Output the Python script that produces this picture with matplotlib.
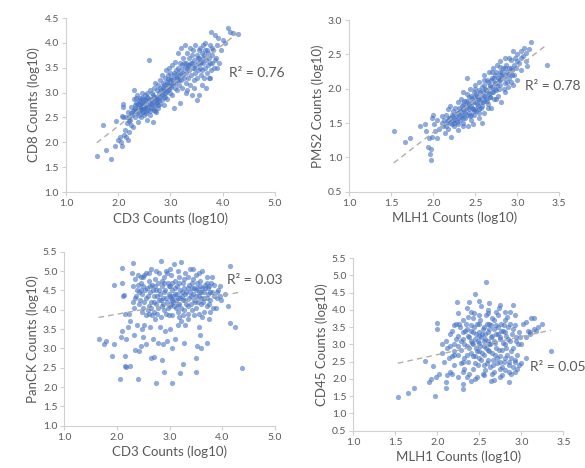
import numpy as np
import matplotlib
matplotlib.use("Agg")
import matplotlib.pyplot as plt

plt.rcParams['font.family'] = ['Lato', 'DejaVu Sans']

# ---- data ----
cd3_cd8 = [
    (1.59,1.73),(1.7,2.35),(1.76,1.85),(1.86,1.67),(1.93,1.93),(1.95,2.43),(2.0,2.05),
    (2.03,2.1),(2.05,2.0),(2.07,1.93),(2.08,2.52),(2.1,2.5),(2.1,2.72),(2.09,2.78),(2.12,2.15),(2.13,2.25),
    (2.15,2.1),(2.15,2.5),(2.17,2.38),(2.18,2.05),(2.2,2.2),(2.2,2.42),(2.19,2.6),
    (2.22,2.45),(2.25,2.35),(2.25,2.72),(2.27,2.55),(2.28,2.3),(2.3,2.65),(2.3,2.88),(2.31,3.05),(2.32,2.75),
    (2.33,2.5),(2.35,2.62),(2.35,2.8),(2.36,2.95),(2.37,2.4),(2.38,2.7),(2.39,2.85),(2.4,2.55),(2.4,2.78),
    (2.41,2.65),(2.42,2.9),(2.43,2.72),(2.44,2.5),(2.45,2.8),(2.45,3.0),(2.46,2.6),(2.47,2.75),(2.48,2.88),
    (2.49,2.68),(2.5,2.55),(2.5,2.8),(2.51,2.95),(2.52,2.72),(2.53,2.62),(2.54,2.85),(2.55,2.45),(2.55,3.0),
    (2.56,2.75),(2.57,2.9),(2.58,2.65),(2.59,3.65),(2.6,2.8),(2.6,3.05),
    (2.61,2.55),(2.62,2.88),(2.63,2.7),(2.64,3.0),(2.65,2.78),(2.66,2.4),(2.67,2.95),(2.68,2.65),(2.69,3.1),
    (2.7,2.85),(2.7,2.75),(2.71,3.2),(2.72,2.92),(2.73,2.6),(2.74,3.05),(2.75,2.82),(2.76,3.15),(2.77,2.7),
    (2.78,3.0),(2.79,2.9),(2.8,3.25),(2.8,2.78),
    (2.81,3.1),(2.82,2.95),(2.83,3.35),(2.84,2.85),(2.85,3.05),(2.86,3.2),(2.87,2.75),(2.88,3.15),(2.89,3.0),
    (2.9,3.3),(2.9,2.92),(2.91,3.45),(2.92,3.1),(2.93,3.22),(2.94,2.88),(2.95,3.35),(2.96,3.05),(2.97,3.15),
    (2.98,3.5),(2.99,3.25),(3.0,3.0),(3.0,3.4),
    (3.01,3.15),(3.02,3.3),(3.03,2.95),(3.04,3.55),(3.05,3.2),(3.06,3.4),(3.07,2.68),(3.08,3.1),(3.09,3.62),
    (3.1,3.3),(3.11,3.45),(3.12,3.05),(3.13,3.25),(3.14,3.5),(3.15,3.8),(3.16,3.15),(3.17,3.35),(3.18,3.6),
    (3.19,2.8),(3.2,3.45),(3.2,3.25),
    (3.21,3.9),(3.22,3.55),(3.23,3.1),(3.24,3.4),(3.25,3.7),(3.26,3.3),(3.27,3.5),(3.28,3.95),(3.29,3.2),
    (3.3,3.6),(3.3,3.4),(3.31,3.8),(3.32,3.05),(3.33,3.55),(3.34,3.3),(3.35,3.7),(3.36,3.45),(3.37,3.9),
    (3.38,3.15),(3.39,3.6),(3.4,3.35),
    (3.41,3.75),(3.42,2.95),(3.43,3.5),(3.44,3.85),(3.45,3.25),(3.46,3.65),(3.47,3.4),(3.48,3.95),(3.49,3.55),
    (3.5,2.85),(3.5,3.75),(3.51,3.3),(3.52,3.6),(3.53,3.45),(3.54,3.85),(3.55,2.95),(3.55,3.7),(3.56,3.5),
    (3.57,3.9),(3.58,3.35),(3.59,3.62),(3.6,3.8),
    (3.61,3.45),(3.62,3.95),(3.63,3.6),(3.64,3.3),(3.65,3.75),(3.66,3.5),(3.67,4.0),(3.68,3.65),(3.69,3.1),
    (3.7,3.4),(3.7,3.85),(3.72,3.55),(3.73,3.7),(3.74,3.3),(3.75,3.6),(3.76,3.95),(3.77,3.45),(3.78,4.22),
    (3.79,3.75),(3.8,3.6),
    (3.82,3.85),(3.84,3.5),(3.86,4.15),(3.88,3.7),(3.9,3.95),(3.92,4.1),(3.94,3.6),(3.96,3.85),(4.0,4.05),
    (4.05,4.0),(4.1,4.3),(4.15,4.22),(4.2,4.2),(4.3,4.18),
    (2.32,2.68),(2.34,2.9),(2.36,2.58),(2.38,2.78),(2.42,2.82),(2.44,2.66),(2.46,2.9),(2.48,2.6),(2.5,2.7),
    (2.52,2.85),(2.54,2.58),(2.56,2.92),(2.58,2.72),(2.6,2.62),(2.62,2.78),(2.64,2.85),(2.66,2.7),(2.68,2.92),
    (2.7,2.62),(2.72,2.8),(2.74,2.88),(2.76,2.75),(2.78,2.85),(2.82,3.05),(2.84,2.98),(2.86,3.12),(2.88,2.92),
    (2.92,3.02),(2.94,3.18),(2.96,3.28),(2.98,3.08),(3.02,3.12),(3.04,3.25),(3.06,3.35),(3.08,3.2),(3.12,3.3),
    (3.14,3.4),(3.16,3.25),(3.22,3.35),(3.26,3.6),(3.32,3.5),(3.36,3.55),(3.42,3.6),(3.46,3.5),(3.52,3.7),
    (3.56,3.6),(3.62,3.7),(3.66,3.85),(3.72,3.8),(3.8,3.9),(3.3,3.0),(3.45,3.1),(3.6,3.15),(3.75,3.3),
    (3.85,3.65),(3.9,3.5),(2.2,2.5),(2.25,2.58),(2.28,2.62),(2.45,2.7),
]

mlh1_pms2 = [
    (1.53,1.38),(1.66,1.23),(1.72,1.28),(1.84,1.45),(1.9,1.48),(1.91,1.38),(1.94,1.15),(1.95,1.28),(1.96,1.05),
    (1.97,0.96),(1.97,1.12),(1.98,1.3),(1.99,1.58),(2.0,1.62),(2.01,1.48),(2.02,1.38),(2.04,1.28),(2.05,1.55),
    (2.07,1.42),
    (2.1,1.5),(2.11,1.6),(2.12,1.45),(2.13,1.55),(2.14,1.35),(2.15,1.62),(2.16,1.52),(2.17,1.7),(2.18,1.42),
    (2.19,1.58),(2.2,1.5),(2.2,1.75),(2.21,1.3),(2.22,1.62),(2.23,1.55),(2.24,1.68),(2.25,1.45),(2.26,1.72),
    (2.27,1.6),(2.28,1.52),(2.29,1.8),(2.3,1.65),(2.3,1.4),(2.3,1.48),(2.35,1.45),
    (2.31,1.72),(2.32,1.55),(2.33,1.85),(2.34,1.62),(2.35,1.5),(2.35,1.78),(2.36,1.95),(2.37,1.68),(2.38,1.58),
    (2.39,1.82),(2.4,1.72),(2.4,2.15),(2.41,1.45),(2.42,1.88),(2.43,1.65),(2.44,2.0),(2.45,1.75),(2.45,1.55),
    (2.46,1.85),(2.47,1.7),(2.47,1.48),(2.48,1.95),(2.49,1.62),(2.5,1.8),(2.5,2.05),
    (2.51,1.68),(2.52,1.9),(2.53,1.75),(2.54,2.1),(2.55,1.58),(2.55,1.85),(2.56,1.95),(2.57,1.72),(2.58,2.02),
    (2.58,1.5),(2.59,1.8),(2.6,2.2),(2.6,1.9),(2.61,1.65),(2.62,2.0),(2.63,1.85),(2.64,2.12),(2.65,1.78),
    (2.65,1.95),(2.66,2.25),(2.67,1.88),(2.68,2.05),(2.69,1.72),(2.7,2.15),(2.7,1.95),
    (2.71,2.3),(2.72,1.85),(2.73,2.08),(2.74,2.2),(2.75,1.98),(2.76,2.35),(2.77,1.9),(2.78,2.12),(2.79,2.25),
    (2.8,2.05),(2.8,2.4),(2.81,1.8),(2.82,2.18),(2.83,2.3),(2.84,2.0),(2.85,2.45),(2.85,2.2),(2.86,2.08),
    (2.87,2.35),(2.88,2.25),(2.89,2.02),(2.9,2.3),(2.9,2.15),
    (2.92,2.42),(2.93,2.1),(2.94,2.28),(2.95,2.55),(2.96,2.2),(2.97,2.45),(2.98,2.3),(3.0,2.5),(3.0,2.12),
    (3.02,2.38),(3.04,2.55),(3.05,2.28),(3.07,2.48),(3.08,2.6),(3.1,2.52),(3.11,2.4),(3.12,2.33),(3.14,2.58),
    (3.16,2.68),(3.35,2.35),
    (2.2,1.58),(2.22,1.48),(2.24,1.6),(2.26,1.55),(2.28,1.65),(2.3,1.58),(2.32,1.68),(2.33,1.6),(2.34,1.75),
    (2.36,1.7),(2.37,1.82),(2.38,1.65),(2.39,1.75),(2.4,1.62),(2.41,1.8),(2.42,1.7),(2.43,1.78),(2.44,1.6),
    (2.45,1.9),(2.46,1.72),(2.47,1.8),(2.48,1.68),(2.49,1.88),(2.5,1.7),(2.51,1.92),(2.52,1.78),(2.53,1.85),
    (2.54,1.7),(2.55,1.98),(2.56,1.8),(2.57,1.88),(2.58,1.75),(2.59,1.95),(2.6,1.82),(2.61,2.05),(2.62,1.9),
    (2.63,1.98),(2.64,1.82),(2.65,2.1),(2.66,1.92),(2.67,2.02),(2.68,1.88),(2.69,2.12),(2.7,2.02),(2.71,1.95),
    (2.72,2.15),(2.73,2.0),(2.74,2.08),(2.75,2.25),(2.76,2.05),(2.77,2.15),(2.78,2.0),(2.79,2.2),(2.8,2.12),
    (2.82,2.25),(2.84,2.15),(2.86,2.3),(2.88,2.1),(2.9,2.22),(2.92,2.3),(2.94,2.2),(2.96,2.35),(2.15,1.45),
    (2.18,1.55),(2.25,1.5),(2.35,1.58),(2.45,1.62),(2.55,1.65),(2.65,1.72),(2.75,1.85),(2.85,1.95),(2.95,2.05),
    (2.4,1.92),(2.5,2.0),(2.6,2.12),(2.7,2.25),(2.8,2.32),(2.9,2.45),(3.0,2.4),(3.05,2.45),
]

cd3_panck = [
    (1.65,3.25),(1.75,3.1),(1.8,3.2),(1.95,3.1),(1.9,2.8),(1.95,4.65),(2.05,2.2),(2.08,3.3),(2.1,3.45),
    (2.1,5.07),(2.1,4.7),(2.12,4.35),(2.13,4.38),(2.15,2.55),(2.17,2.52),(2.15,2.8),(2.15,3.9),(2.18,3.25),
    (2.2,3.55),(2.22,3.9),(2.25,2.55),(2.25,3.7),(2.28,4.95),(2.3,5.22),(2.3,4.6),(2.32,3.35),(2.35,2.95),
    (2.38,3.6),(2.4,2.2),(2.42,2.92),(2.45,3.05),(2.47,3.5),(2.5,3.3),(2.52,3.6),(2.55,3.1),(2.6,3.9),
    (2.62,3.55),(2.65,2.75),(2.7,2.78),(2.68,3.25),(2.72,3.75),(2.75,2.1),(2.78,3.15),(2.82,3.55),(2.85,2.7),
    (2.88,3.1),(2.9,2.4),(2.92,3.45),(2.95,3.2),(2.98,3.85),(3.0,3.5),(3.05,2.1),(3.05,3.0),(3.1,3.25),
    (3.15,3.6),(3.18,3.8),(3.2,2.35),(3.22,3.7),(3.25,2.6),(3.28,3.15),(3.3,3.6),(3.35,3.9),(3.5,2.4),
    (3.5,2.75),(3.52,3.05),(3.55,3.55),(3.58,3.35),(3.6,3.0),(3.62,3.8),(3.7,3.15),(3.75,3.75),(4.15,3.65),
    (4.25,3.55),(4.38,2.5),
    (2.35,4.8),(2.38,4.5),(2.4,4.65),(2.42,4.15),(2.45,4.85),(2.47,4.4),(2.5,4.6),(2.5,4.05),(2.52,4.9),
    (2.55,4.3),(2.57,4.55),(2.6,4.75),(2.6,4.1),(2.62,4.45),(2.64,5.05),(2.65,4.2),(2.67,4.65),(2.7,4.35),
    (2.7,3.95),(2.72,4.8),(2.74,4.5),(2.75,4.15),(2.77,4.7),(2.79,4.25),(2.8,4.95),(2.82,4.4),(2.83,5.25),
    (2.85,4.1),(2.86,4.6),(2.88,4.3),(2.9,4.85),(2.9,4.0),(2.92,4.5),(2.93,5.0),(2.95,4.2),(2.96,4.7),
    (2.98,4.4),(3.0,4.6),(3.0,4.1),(3.02,4.3),(3.03,4.9),(3.05,4.5),(3.07,4.2),(3.08,5.18),(3.1,4.4),
    (3.1,4.75),(3.12,4.05),(3.14,4.6),(3.15,4.3),(3.17,4.85),(3.18,4.15),(3.2,4.5),(3.22,5.24),(3.23,4.35),
    (3.25,4.7),(3.27,4.0),(3.28,4.55),(3.3,4.25),(3.3,4.95),(3.32,4.45),(3.35,4.1),(3.36,4.65),(3.38,5.05),
    (3.4,4.35),(3.42,4.55),(3.43,4.0),(3.45,4.8),(3.47,4.25),(3.5,4.5),(3.5,4.05),(3.52,4.7),(3.55,4.35),
    (3.57,4.6),(3.6,4.15),(3.6,4.45),(3.62,5.0),(3.65,4.3),(3.67,4.55),(3.7,4.85),(3.7,4.1),(3.72,4.4),
    (3.75,4.6),(3.77,4.25),(3.8,4.85),(3.8,4.45),(3.82,4.05),(3.85,4.35),(3.88,4.05),(3.9,4.3),(3.92,4.5),
    (3.95,4.6),(3.98,4.25),(4.05,4.4),(4.1,4.1),(4.15,5.12),
    (2.3,4.2),(2.33,4.05),(2.36,4.35),(2.44,4.25),(2.48,3.95),(2.56,3.85),(2.58,4.0),(2.66,3.85),(2.76,3.9),
    (2.84,3.8),(2.94,3.9),(3.04,3.85),(3.16,3.95),(3.26,3.85),(3.34,3.75),(3.46,3.85),(3.56,3.9),(3.66,3.95),
    (3.76,3.95),
    (2.42,4.45),(2.46,4.7),(2.52,4.2),(2.54,4.5),(2.58,4.35),(2.62,4.6),(2.64,4.05),(2.68,4.5),(2.7,4.2),
    (2.73,4.6),(2.76,4.35),(2.78,4.05),(2.8,4.5),(2.84,4.25),(2.86,4.75),(2.88,4.15),(2.9,4.45),(2.94,4.3),
    (2.96,4.05),(2.98,4.6),(3.0,4.35),(3.02,4.15),(3.04,4.7),(3.06,4.35),(3.08,4.1),(3.1,4.55),(3.12,4.25),
    (3.14,4.4),(3.16,4.15),(3.18,4.7),(3.2,4.3),(3.22,4.05),(3.24,4.45),(3.26,4.25),(3.28,4.8),(3.3,4.4),
    (3.32,4.15),(3.34,4.55),(3.36,4.3),(3.38,4.45),(3.4,4.15),(3.42,4.7),(3.44,4.4),(3.46,4.55),(3.48,4.2),
    (3.5,4.35),(3.52,4.55),(3.54,4.2),(3.56,4.45),(3.58,4.75),(3.6,4.3),(3.62,4.55),(3.64,4.2),(3.66,4.45),
    (3.68,4.65),(3.7,4.3),(3.72,4.55),(3.74,4.15),(3.76,4.45),(3.78,4.7),(2.6,4.95),(2.75,5.0),(2.95,4.95),
    (3.15,5.0),(3.45,5.05),(3.5,4.9),(2.5,4.85),(2.4,4.9),(2.55,4.95),(3.0,5.05),(3.35,4.85),(3.55,4.95),
    (3.7,4.7),(3.85,4.65),(3.9,4.45),(3.95,4.35),(2.45,4.5),(2.35,4.3),(2.9,4.7),(3.05,4.25),
]

mlh1_cd45 = [
    (1.53,1.47),(1.65,1.6),(1.72,1.75),(1.85,2.52),(1.9,1.92),(1.92,2.0),(1.95,2.38),(1.97,1.5),(1.98,2.05),
    (1.99,3.45),(2.0,3.62),(2.02,2.15),(2.05,2.75),(2.06,3.0),(2.08,2.5),(2.1,1.75),(2.1,1.92),(2.12,2.1),
    (2.14,2.6),(2.15,2.2),(2.18,2.15),(2.2,3.55),(2.2,2.8),(2.23,4.22),(2.25,2.05),(2.28,2.45),(2.3,1.72),
    (2.3,1.85),(2.32,2.3),(2.35,4.05),(2.38,4.22),(2.4,1.95),(2.45,4.45),(2.5,4.25),(2.58,4.8),(2.6,4.0),
    (2.64,1.95),(2.75,4.15),(2.8,3.95),(2.85,1.9),(2.9,4.15),(3.05,3.65),(3.12,3.75),(3.15,3.45),(3.1,3.3),
    (3.35,2.8),(3.05,3.2),(3.0,3.0),(3.08,3.4),(3.18,3.4),
    (2.1,3.1),(2.12,2.9),(2.15,3.3),(2.17,2.65),(2.2,3.0),(2.22,3.6),(2.24,2.7),(2.25,3.25),(2.27,3.5),
    (2.28,2.85),(2.3,3.15),(2.3,3.7),(2.32,2.6),(2.33,3.4),(2.35,2.95),(2.36,3.8),(2.37,2.5),(2.38,3.2),
    (2.4,3.55),(2.4,2.75),(2.41,3.05),(2.42,2.3),(2.43,3.35),(2.44,3.9),(2.45,2.65),(2.45,3.15),(2.46,2.9),
    (2.47,3.6),(2.48,2.4),(2.49,3.25),(2.5,2.8),(2.5,3.05),(2.51,3.7),(2.52,2.55),(2.53,3.3),(2.54,2.15),
    (2.55,2.95),(2.55,3.5),(2.56,2.7),(2.57,3.15),(2.58,3.85),(2.59,2.45),(2.6,3.35),(2.6,2.85),(2.61,3.0),
    (2.62,3.6),(2.63,2.35),(2.64,3.2),(2.65,2.75),(2.65,3.75),(2.66,2.55),(2.67,3.45),(2.68,2.2),(2.69,3.05),
    (2.7,2.9),(2.7,3.55),(2.71,2.45),(2.72,3.3),(2.73,4.05),(2.74,2.65),(2.75,3.15),(2.75,2.3),(2.76,3.6),
    (2.77,2.85),(2.78,3.4),(2.79,2.5),(2.8,3.0),(2.8,3.7),(2.81,2.25),(2.82,3.25),(2.83,2.7),(2.84,3.5),
    (2.85,2.4),(2.86,3.1),(2.87,3.95),(2.88,2.6),(2.89,3.3),(2.9,2.35),(2.9,2.9),(2.92,3.55),(2.93,2.55),
    (2.94,3.2),(2.95,2.3),(2.96,3.0),
    (2.2,2.4),(2.25,3.9),(2.3,2.2),(2.35,3.45),(2.38,2.15),(2.42,3.75),(2.47,2.05),(2.52,4.1),(2.57,2.25),
    (2.62,4.2),(2.67,1.98),(2.72,3.85),(2.77,2.1),(2.83,3.8),(2.88,2.15),(2.93,3.85),(2.97,3.35),(3.0,2.45),
    (3.02,3.6),(3.1,3.35),(3.2,3.5),(3.25,3.6),(3.15,3.75),(3.05,2.6),
    (2.15,2.95),(2.18,3.4),(2.2,2.7),(2.22,3.15),(2.24,2.95),(2.26,3.6),(2.28,3.1),(2.3,2.5),(2.3,3.35),
    (2.32,3.0),(2.34,3.6),(2.35,2.7),(2.36,3.25),(2.38,2.9),(2.4,3.4),(2.4,3.1),(2.42,2.65),(2.43,3.0),
    (2.44,3.5),(2.45,2.45),(2.46,3.3),(2.47,2.8),(2.48,3.1),(2.49,3.6),(2.5,2.6),(2.5,3.35),(2.51,2.95),
    (2.52,3.2),(2.53,2.75),(2.54,3.45),(2.55,3.1),(2.56,2.4),(2.57,3.3),(2.58,2.9),(2.59,3.6),(2.6,3.1),
    (2.6,2.55),(2.61,3.45),(2.62,2.8),(2.63,3.0),(2.64,3.55),(2.65,3.25),(2.66,2.4),(2.67,3.1),(2.68,3.7),
    (2.69,2.7),(2.7,3.3),(2.71,2.6),(2.72,3.5),(2.73,2.85),(2.74,3.2),(2.75,2.5),(2.76,3.4),(2.77,2.35),
    (2.78,3.05),(2.79,3.55),(2.8,2.6),(2.81,3.35),(2.82,2.9),(2.84,3.15),(2.85,2.5),(2.86,3.6),(2.88,2.8),
    (2.9,3.45),(2.92,2.5),(2.94,3.1),(2.95,2.7),(2.97,2.4),(2.98,3.2),(2.35,2.05),(2.45,2.0),(2.55,2.1),
    (2.65,2.15),(2.75,2.05),(2.85,2.2),(2.93,2.2),(2.5,3.85),(2.6,3.9),(2.7,3.95),(2.4,3.95),
]

panel_data = [cd3_cd8, mlh1_pms2, cd3_panck, mlh1_cd45]
x_labels = ["CD3 Counts (log10)", "MLH1 Counts (log10)", "CD3 Counts (log10)", "MLH1 Counts (log10)"]
y_labels = ["CD8 Counts (log10)", "PMS2 Counts (log10)", "PanCK Counts (log10)", "CD45 Counts (log10)"]
r2_labels = ["R² = 0.76", "R² = 0.78", "R² = 0.03", "R² = 0.05"]
x_ticks = [[1.0, 2.0, 3.0, 4.0, 5.0], [1.0, 1.5, 2.0, 2.5, 3.0, 3.5],
           [1.0, 2.0, 3.0, 4.0, 5.0], [1.0, 1.5, 2.0, 2.5, 3.0, 3.5]]
y_ticks = [[1.0, 1.5, 2.0, 2.5, 3.0, 3.5, 4.0, 4.5], [0.5, 1.0, 1.5, 2.0, 2.5, 3.0],
           [1.0, 1.5, 2.0, 2.5, 3.0, 3.5, 4.0, 4.5, 5.0, 5.5],
           [0.5, 1.0, 1.5, 2.0, 2.5, 3.0, 3.5, 4.0, 4.5, 5.0, 5.5]]
r2_pos = [(4.13, 3.39), (3.09, 2.04), (4.09, 4.78), (3.10, 2.35)]

# ---- layout ----
fig = plt.figure(figsize=(5.85, 4.68), dpi=100)
rects = [
    [0.1128, 0.5897, 0.357, 0.3718],
    [0.597, 0.5904, 0.359, 0.3667],
    [0.110, 0.0904, 0.360, 0.3718],
    [0.604, 0.0797, 0.359, 0.369],
]
text_c = '#595959'
spine_c = '#d0d0d0'

for i in range(4):
    ax = fig.add_axes(rects[i])
    pts = np.array(panel_data[i])
    x, y = pts[:, 0], pts[:, 1]
    ax.scatter(x, y, s=14, color='#4472C4', alpha=0.6, linewidths=0, zorder=2)
    k, b = np.polyfit(x, y, 1)
    xs = np.array([x.min(), x.max()])
    ax.plot(xs, k * xs + b, linestyle=(0, (4, 3)), color='#b5aca4', linewidth=1.0, zorder=3)
    ax.text(r2_pos[i][0], r2_pos[i][1], r2_labels[i], fontsize=10, color=text_c,
            va='center', ha='left')
    ax.set_xlim(x_ticks[i][0], x_ticks[i][-1])
    ax.set_ylim(y_ticks[i][0], y_ticks[i][-1])
    ax.set_xticks(x_ticks[i])
    ax.set_yticks(y_ticks[i])
    ax.set_xticklabels([f"{t:.1f}" for t in x_ticks[i]])
    ax.set_yticklabels([f"{t:.1f}" for t in y_ticks[i]])
    for s in ['top', 'right']:
        ax.spines[s].set_visible(False)
    for s in ['left', 'bottom']:
        ax.spines[s].set_color(spine_c)
        ax.spines[s].set_linewidth(0.8)
    ax.tick_params(axis='both', colors=spine_c, labelcolor=text_c, labelsize=7.5,
                   length=3, width=0.8, pad=2)
    ax.set_xlabel(x_labels[i], fontsize=9.5, color=text_c, labelpad=3)
    ax.set_ylabel(y_labels[i], fontsize=9.5, color=text_c, labelpad=3)

fig.savefig("out.png", dpi=100)
